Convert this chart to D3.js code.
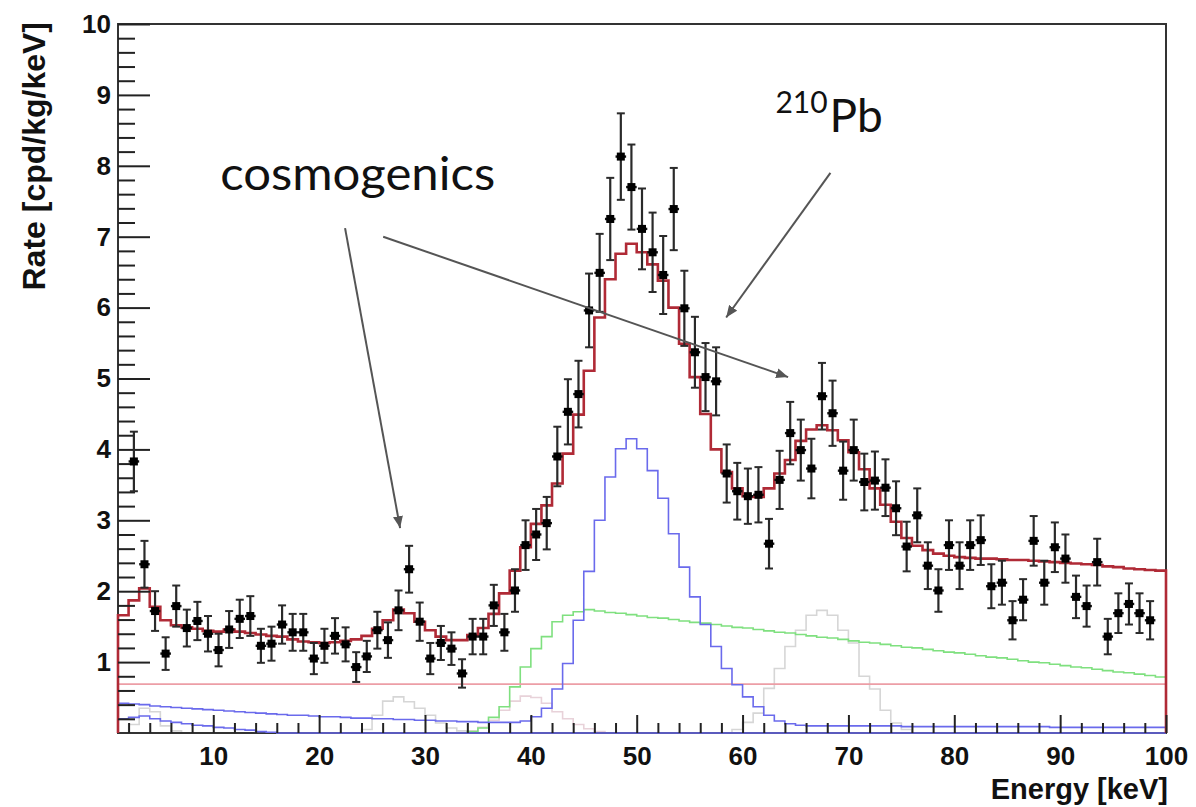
<!DOCTYPE html>
<html>
<head>
<meta charset="utf-8">
<script src="https://cdn.jsdelivr.net/npm/d3@7"></script>
<style>
  html, body { margin: 0; padding: 0; background: #fff; }
  svg { display: block; }
</style>
</head>
<body>
<svg id="chart" width="1196" height="807"></svg>
<script>
// ---- Binning: 1 keV bins from 1 to 100 keV ----
const binLow = d3.range(1, 100);            // lower edge of each model bin
const pointEnergy = d3.range(2.5, 99, 1);   // data point bin centres (2.5 ... 98.5 keV)

// ---- Measured rate [cpd/kg/keV] and its statistical error ----
const rate = [
  3.83, 2.38, 1.72, 1.12, 1.79, 1.48, 1.58, 1.40, 1.17, 1.46,
  1.61, 1.65, 1.23, 1.26, 1.53, 1.42, 1.42, 1.05, 1.23, 1.37,
  1.25, 0.93, 1.08, 1.45, 1.31, 1.73, 2.31, 1.57, 1.05, 1.27,
  1.19, 0.84, 1.36, 1.36, 1.80, 1.42, 2.01, 2.65, 2.80, 2.96,
  3.90, 4.53, 4.78, 5.96, 6.49, 7.25, 8.13, 7.70, 7.11, 6.78,
  6.46, 7.39, 5.99, 5.37, 5.02, 4.96, 3.66, 3.41, 3.34, 3.36,
  2.67, 3.57, 4.23, 3.99, 3.73, 4.75, 4.51, 3.70, 3.99, 3.54,
  3.56, 3.46, 3.17, 2.63, 3.07, 2.36, 2.01, 2.65, 2.36, 2.65,
  2.72, 2.07, 2.12, 1.59, 1.88, 2.71, 2.12, 2.62, 2.46, 1.92,
  1.79, 2.41, 1.36, 1.69, 1.82, 1.69, 1.59
];
const rateErr = [
  0.42, 0.33, 0.28, 0.23, 0.29, 0.26, 0.27, 0.25, 0.23, 0.26,
  0.27, 0.28, 0.24, 0.24, 0.27, 0.26, 0.26, 0.22, 0.24, 0.25,
  0.24, 0.21, 0.22, 0.26, 0.25, 0.28, 0.33, 0.27, 0.22, 0.24,
  0.23, 0.20, 0.25, 0.25, 0.29, 0.26, 0.30, 0.35, 0.36, 0.37,
  0.42, 0.46, 0.47, 0.52, 0.55, 0.58, 0.61, 0.60, 0.57, 0.56,
  0.55, 0.58, 0.53, 0.50, 0.48, 0.48, 0.41, 0.40, 0.39, 0.39,
  0.35, 0.41, 0.44, 0.43, 0.42, 0.47, 0.46, 0.41, 0.43, 0.40,
  0.41, 0.40, 0.38, 0.35, 0.38, 0.33, 0.30, 0.35, 0.33, 0.35,
  0.35, 0.31, 0.31, 0.27, 0.29, 0.35, 0.31, 0.35, 0.34, 0.30,
  0.29, 0.33, 0.25, 0.28, 0.29, 0.28, 0.27
];

// ---- Fit model, one value per 1 keV bin (1-2 ... 99-100 keV) ----
const totalFit = [
  1.66, 1.87, 2.04, 1.78, 1.59, 1.52, 1.49, 1.47, 1.44, 1.43,
  1.46, 1.43, 1.41, 1.39, 1.37, 1.36, 1.32, 1.29, 1.28, 1.27,
  1.28, 1.30, 1.32, 1.37, 1.47, 1.59, 1.74, 1.69, 1.57, 1.45,
  1.36, 1.31, 1.31, 1.38, 1.48, 1.68, 1.97, 2.29, 2.62, 2.95,
  3.21, 3.52, 3.94, 4.49, 5.11, 5.86, 6.40, 6.76, 6.90, 6.78,
  6.61, 6.38, 6.00, 5.49, 5.02, 4.50, 4.00, 3.68, 3.45, 3.34,
  3.33, 3.45, 3.66, 3.85, 4.12, 4.28, 4.34, 4.27, 4.13, 3.96,
  3.72, 3.45, 3.22, 2.98, 2.75, 2.64, 2.58, 2.53, 2.50, 2.48,
  2.47, 2.46, 2.46, 2.45, 2.44, 2.44, 2.43, 2.42, 2.41, 2.40,
  2.39, 2.38, 2.37, 2.35, 2.34, 2.32, 2.31, 2.30, 2.29
];
// 46.5 keV line with its low-energy shoulder
const peak46 = [
  0.42, 0.41, 0.40, 0.38, 0.37, 0.36, 0.35, 0.34, 0.33, 0.32,
  0.31, 0.30, 0.29, 0.28, 0.27, 0.26, 0.25, 0.25, 0.24, 0.23,
  0.23, 0.22, 0.21, 0.21, 0.20, 0.20, 0.19, 0.19, 0.18, 0.18,
  0.17, 0.17, 0.16, 0.16, 0.15, 0.15, 0.15, 0.15, 0.17, 0.23,
  0.35, 0.62, 0.98, 1.59, 2.28, 3.00, 3.61, 4.01, 4.15, 4.01,
  3.70, 3.31, 2.81, 2.34, 1.92, 1.53, 1.22, 0.91, 0.68, 0.51,
  0.37, 0.25, 0.17, 0.13, 0.11, 0.10, 0.10, 0.10, 0.10, 0.10,
  0.10, 0.10, 0.10, 0.10, 0.09, 0.09, 0.09, 0.09, 0.09, 0.09,
  0.09, 0.09, 0.09, 0.09, 0.09, 0.09, 0.09, 0.09, 0.08, 0.08,
  0.08, 0.08, 0.08, 0.08, 0.08, 0.08, 0.08, 0.08, 0.08
];
// falling low-energy component (zero above 16 keV)
const lowEnergyTail = [
  0.20, 0.22, 0.24, 0.20, 0.17, 0.15, 0.13, 0.11, 0.10, 0.08,
  0.07, 0.05, 0.04, 0.02, 0.01
];
// continuum starting above the K-shell threshold
const continuum = [
  0, 0, 0, 0, 0, 0, 0, 0, 0, 0,
  0, 0, 0, 0, 0, 0, 0, 0, 0, 0,
  0, 0, 0, 0, 0, 0, 0, 0, 0, 0,
  0, 0, 0, 0.02, 0.07, 0.22, 0.37, 0.65, 0.93, 1.19,
  1.36, 1.57, 1.66, 1.71, 1.74, 1.72, 1.70, 1.69, 1.67, 1.65,
  1.63, 1.62, 1.60, 1.58, 1.56, 1.55, 1.53, 1.51, 1.49, 1.48,
  1.46, 1.44, 1.42, 1.41, 1.39, 1.37, 1.35, 1.34, 1.32, 1.30,
  1.28, 1.27, 1.25, 1.23, 1.21, 1.20, 1.18, 1.16, 1.14, 1.13,
  1.11, 1.09, 1.07, 1.06, 1.04, 1.02, 1.00, 0.99, 0.97, 0.95,
  0.93, 0.92, 0.90, 0.88, 0.86, 0.85, 0.83, 0.81, 0.79
];
// cosmogenic lines (~3, ~28 and ~67 keV)
const cosmoLines = [
  0, 0.12, 0.35, 0.30, 0.10, 0.03, 0, 0, 0, 0,
  0, 0, 0, 0, 0, 0, 0, 0, 0, 0,
  0, 0, 0, 0.05, 0.25, 0.45, 0.51, 0.44, 0.35, 0.25,
  0.14, 0.07, 0.03, 0, 0, 0, 0, 0, 0, 0,
  0, 0, 0, 0, 0, 0, 0, 0, 0, 0,
  0, 0, 0, 0, 0, 0, 0, 0, 0.05, 0.15,
  0.28, 0.63, 0.91, 1.22, 1.45, 1.66, 1.73, 1.66, 1.45, 1.27,
  0.80, 0.62, 0.32, 0.14, 0.05, 0, 0, 0, 0, 0,
  0, 0, 0, 0, 0, 0, 0, 0, 0, 0,
  0, 0, 0, 0, 0, 0, 0, 0, 0
];
// small line near 40 keV
const line40 = [
  0, 0, 0, 0, 0, 0, 0, 0, 0, 0,
  0, 0, 0, 0, 0, 0, 0, 0, 0, 0,
  0, 0, 0, 0, 0, 0, 0, 0, 0, 0,
  0, 0, 0, 0.03, 0.08, 0.18, 0.32, 0.45, 0.52, 0.50,
  0.42, 0.30, 0.20, 0.12, 0.06, 0.02, 0, 0, 0, 0,
  0, 0, 0, 0, 0, 0, 0, 0, 0, 0,
  0, 0, 0, 0, 0, 0, 0, 0, 0, 0,
  0, 0, 0, 0, 0, 0, 0, 0, 0, 0,
  0, 0, 0, 0, 0, 0, 0, 0, 0, 0,
  0, 0, 0, 0, 0, 0, 0, 0, 0
];
const flatLevel = 0.69;   // flat background [cpd/kg/keV]

// ---- Axis ticks ----
const xMajorTicks = [10, 20, 30, 40, 50, 60, 70, 80, 90, 100];
const yMajorTicks = [1, 2, 3, 4, 5, 6, 7, 8, 9, 10];

// ---- Frame & scales ----
const frame = { left: 118, right: 1166, top: 24, bottom: 733 };
const x = d3.scaleLinear().domain([1, 100]).range([frame.left, frame.right]);
const y = d3.scaleLinear().domain([0, 10]).range([frame.bottom, frame.top]);

const svg = d3.select("#chart");
const g = svg.append("g");

// histogram outline (ROOT-like step drawing)
function histPath(values, closeEdges) {
  const pts = binLow.map((b, i) => [b, values[i] ?? 0]);
  pts.push([binLow[binLow.length - 1] + 1, values[binLow.length - 1] ?? 0]);
  if (closeEdges) {
    pts.unshift([binLow[0], 0]);
    pts.push([binLow[binLow.length - 1] + 1, 0]);
  }
  return d3.line().x(d => x(d[0])).y(d => y(d[1])).curve(d3.curveStepAfter)(pts);
}

// components lying on the baseline go underneath the frame
g.append("path").attr("d", histPath(cosmoLines))
  .attr("fill", "none").attr("stroke", "#d6d6d6").attr("stroke-width", 1.6);
g.append("path").attr("d", histPath(line40))
  .attr("fill", "none").attr("stroke", "#e8d2d9").attr("stroke-width", 1.6);
g.append("path").attr("d", histPath(continuum))
  .attr("fill", "none").attr("stroke", "#7fe07f").attr("stroke-width", 1.6);

// frame
g.append("rect")
  .attr("x", frame.left).attr("y", frame.top)
  .attr("width", frame.right - frame.left).attr("height", frame.bottom - frame.top)
  .attr("fill", "none").attr("stroke", "#333").attr("stroke-width", 2);

// flat background
g.append("line")
  .attr("x1", x(1)).attr("x2", x(100))
  .attr("y1", y(flatLevel)).attr("y2", y(flatLevel))
  .attr("stroke", "#ec9ea6").attr("stroke-width", 1.6);

g.append("path").attr("d", histPath(lowEnergyTail))
  .attr("fill", "none").attr("stroke", "#6a6aec").attr("stroke-width", 1.6);
g.append("path").attr("d", histPath(peak46))
  .attr("fill", "none").attr("stroke", "#6a6aec").attr("stroke-width", 1.6);
g.append("path").attr("d", histPath(totalFit, true))
  .attr("fill", "none").attr("stroke", "#b02a36").attr("stroke-width", 2.6)
  .attr("stroke-linejoin", "miter");

// ---- ticks (drawn inward, ROOT style) ----
const tickColor = "#222";
const xAxisMajor = d3.axisBottom(x).tickValues(xMajorTicks)
  .tickSizeInner(-18).tickSizeOuter(0).tickPadding(14).tickFormat(d3.format("d"));
const xMinor = d3.range(2, 100, 2).filter(v => v % 10 !== 0);
const xAxisMinor = d3.axisBottom(x).tickValues(xMinor)
  .tickSizeInner(-10).tickSizeOuter(0).tickFormat("");
const yAxisMajor = d3.axisLeft(y).tickValues(yMajorTicks)
  .tickSizeInner(-32).tickSizeOuter(0).tickPadding(7).tickFormat(d3.format("d"));
const yMinor = d3.range(0.2, 10, 0.2).filter(v => Math.abs(v - Math.round(v)) > 0.01);
const yAxisMinor = d3.axisLeft(y).tickValues(yMinor)
  .tickSizeInner(-17).tickSizeOuter(0).tickFormat("");

function styleAxis(sel) {
  sel.select(".domain").remove();
  sel.selectAll(".tick line").attr("stroke", tickColor).attr("stroke-width", 2);
  sel.selectAll(".tick text")
    .attr("fill", "#111")
    .style("font-family", "'Liberation Sans', Arial, Helvetica, sans-serif")
    .style("font-weight", "bold");
}
g.append("g").attr("transform", `translate(0,${frame.bottom})`).call(xAxisMinor).call(styleAxis);
g.append("g").attr("transform", `translate(0,${frame.bottom})`).call(xAxisMajor).call(styleAxis)
  .selectAll(".tick text").style("font-size", "26px");
g.append("g").attr("transform", `translate(${frame.left},0)`).call(yAxisMinor).call(styleAxis);
g.append("g").attr("transform", `translate(${frame.left},0)`).call(yAxisMajor).call(styleAxis)
  .selectAll(".tick text").style("font-size", "26px");

// ---- data points with error bars ----
const pts = g.append("g").selectAll("g.pt")
  .data(pointEnergy.map((e, i) => ({ e, v: rate[i], s: rateErr[i] })))
  .join("g").attr("class", "pt");
pts.append("line")
  .attr("x1", d => x(d.e)).attr("x2", d => x(d.e))
  .attr("y1", d => y(d.v - d.s)).attr("y2", d => y(d.v + d.s))
  .attr("stroke", "#2a2a2a").attr("stroke-width", 2.2);
pts.append("line")
  .attr("x1", d => x(d.e - 0.5)).attr("x2", d => x(d.e + 0.5))
  .attr("y1", d => y(d.v)).attr("y2", d => y(d.v))
  .attr("stroke", "#111").attr("stroke-width", 2.4);
[-1, 1].forEach(sgn => {
  pts.append("line")
    .attr("x1", d => x(d.e) - 4).attr("x2", d => x(d.e) + 4)
    .attr("y1", d => y(d.v + sgn * d.s)).attr("y2", d => y(d.v + sgn * d.s))
    .attr("stroke", "#2a2a2a").attr("stroke-width", 2);
});
pts.append("rect")
  .attr("x", d => x(d.e) - 4).attr("y", d => y(d.v) - 4)
  .attr("width", 8).attr("height", 8).attr("fill", "#000");

// ---- axis titles ----
const titleFont = "'Liberation Sans', Arial, Helvetica, sans-serif";
svg.append("text")
  .attr("x", 1168).attr("y", 799)
  .attr("text-anchor", "end")
  .style("font-family", titleFont).style("font-weight", "bold").style("font-size", "29px")
  .attr("fill", "#111")
  .text("Energy [keV]");
svg.append("text")
  .attr("transform", "translate(45,22) rotate(-90)")
  .attr("text-anchor", "end")
  .style("font-family", titleFont).style("font-weight", "bold").style("font-size", "32px")
  .attr("fill", "#111")
  .text("Rate [cpd/kg/keV]");

// ---- annotations (positions in data units) ----
const defs = svg.append("defs");
defs.append("marker")
  .attr("id", "arrowHead").attr("viewBox", "0 0 12 10")
  .attr("refX", 12).attr("refY", 5)
  .attr("markerWidth", 12).attr("markerHeight", 10)
  .attr("markerUnits", "userSpaceOnUse")
  .attr("orient", "auto")
  .append("path").attr("d", "M0,0 L12,5 L0,10 Z").attr("fill", "#555");

const arrows = [
  { from: [22.45, 7.12], to: [27.65, 2.89] },
  { from: [26.05, 7.00], to: [64.3, 5.02] },
  { from: [68.3, 7.90], to: [58.45, 5.86] }
];
svg.append("g").selectAll("line").data(arrows).join("line")
  .attr("x1", d => x(d.from[0])).attr("y1", d => y(d.from[1]))
  .attr("x2", d => x(d.to[0])).attr("y2", d => y(d.to[1]))
  .attr("stroke", "#555").attr("stroke-width", 2)
  .attr("marker-end", "url(#arrowHead)");

const annotFont = "Lato, 'Open Sans', 'Noto Sans', sans-serif";
svg.append("text")
  .attr("x", x(10.65)).attr("y", y(7.66))
  .attr("textLength", 275).attr("lengthAdjust", "spacingAndGlyphs")
  .style("font-family", annotFont).style("font-weight", 400).style("font-size", "46px")
  .attr("fill", "#111")
  .text("cosmogenics");

const pb = svg.append("text")
  .attr("x", x(63.1)).attr("y", y(8.48))
  .style("font-family", annotFont).style("font-weight", 400)
  .attr("fill", "#111");
pb.append("tspan").attr("dy", -19).style("font-size", "30px").text("210");
pb.append("tspan").attr("dy", 19).attr("dx", 2).style("font-size", "46px").text("Pb");
</script>
</body>
</html>
